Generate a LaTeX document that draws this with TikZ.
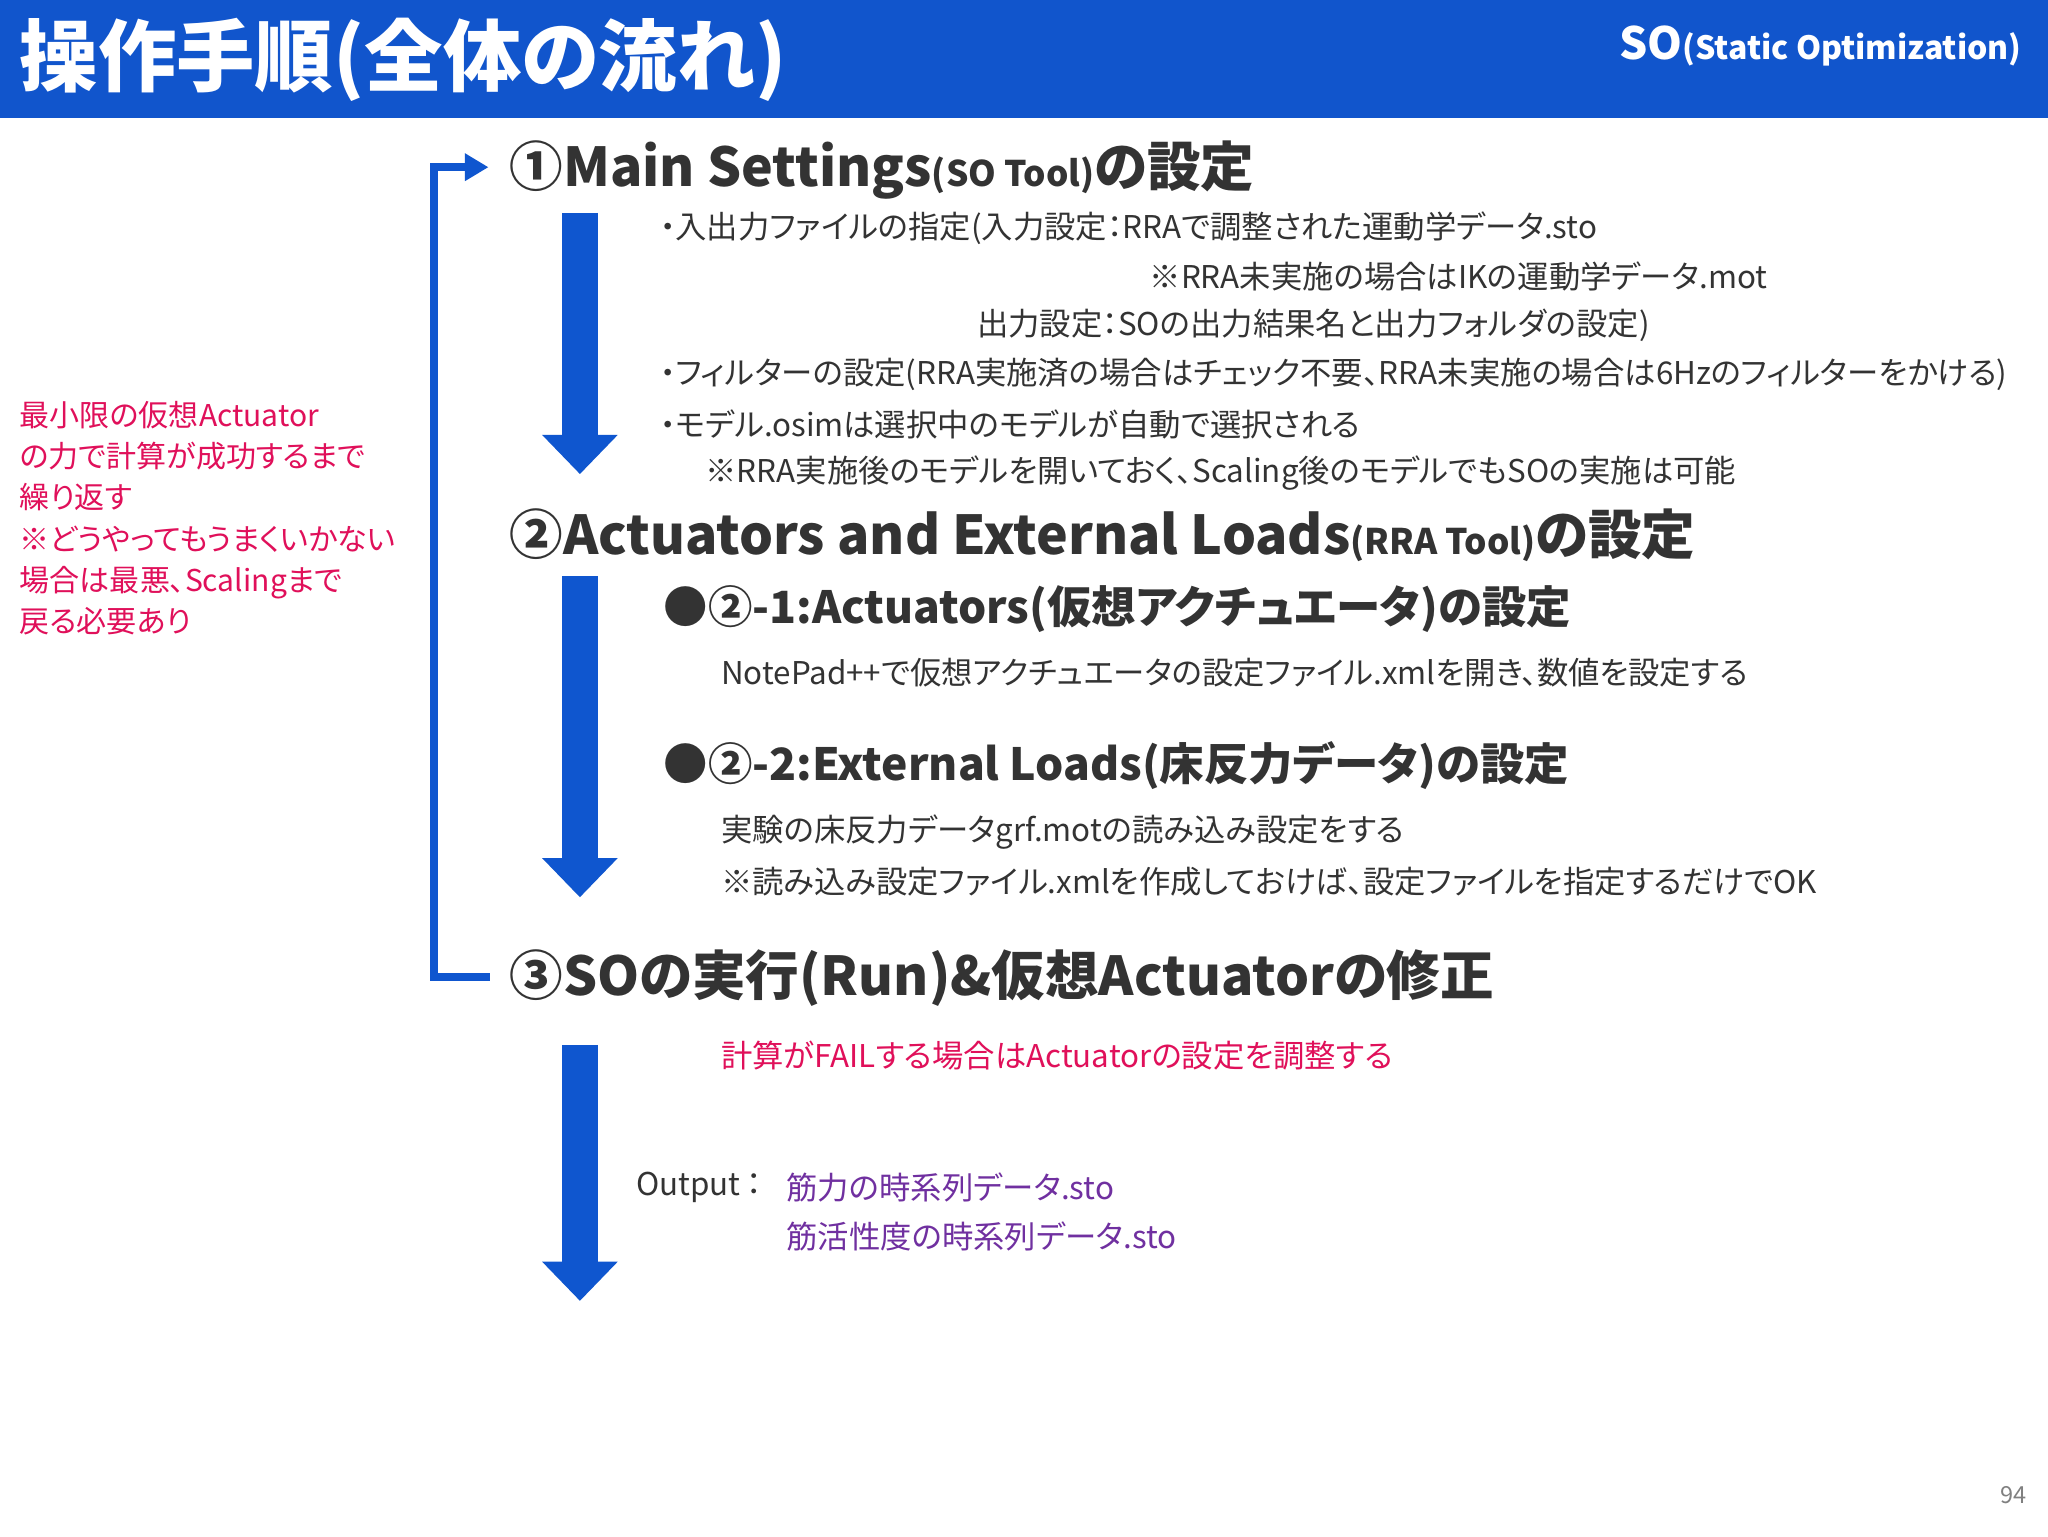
\documentclass[tikz,border=0pt]{standalone}
\usepackage{fontspec}
\setmainfont{Noto Sans CJK JP}[RawFeature=+palt]
\usetikzlibrary{arrows.meta}
\definecolor{hdrblue}{HTML}{1155CC}
\definecolor{arrblue}{HTML}{0F56CF}
\definecolor{bodyc}{HTML}{333333}
\definecolor{redc}{HTML}{E0105A}
\definecolor{purp}{HTML}{7030A0}
\tikzset{
  t/.style={anchor=west,inner sep=0pt,text=bodyc,font=\fontsize{24}{28}\selectfont},
  hd/.style={anchor=west,inner sep=0pt,text=bodyc,font=\fontsize{41}{46}\bfseries},
  sub/.style={anchor=west,inner sep=0pt,text=bodyc,font=\fontsize{34}{38}\bfseries},
  red/.style={anchor=west,inner sep=0pt,text=redc,font=\fontsize{24}{28}\selectfont},
  downarr/.style={line width=28pt,draw=arrblue,-{Triangle[width=56pt,length=30pt]}},
}
\begin{document}
\begin{tikzpicture}[x=1pt,y=-1pt]
\useasboundingbox (0,0) rectangle (1568,1176);
\fill[white] (0,0) rectangle (1568,1176);
\fill[hdrblue] (0,0) rectangle (1568,90);
\node[anchor=west,inner sep=0pt,text=white,font=\fontsize{60}{66}\bfseries] (title) at (15,46) {操作手順(全体の流れ)};
\node[anchor=east,inner sep=0pt,text=white,font=\bfseries] (so) at (1548,35) {{\fontsize{34}{38}\selectfont SO}{\fontsize{24.5}{28}\selectfont(Static Optimization)}};
% bracket
\coordinate (bA) at (375,748);
\coordinate (bB) at (332,748);
\coordinate (bC) at (332,128);
\coordinate (bD) at (374,128);
\draw[arrblue,line width=6pt,-{Triangle[width=20pt,length=18pt]}] (bA) -- (bB) -- (bC) -- (bD);
% headings
\node[hd] (h1) at (390,130) {①Main Settings{\fontsize{27}{30}\selectfont(SO Tool)}の設定};
\node[hd] (h2) at (390,410) {②Actuators and External Loads{\fontsize{27}{30}\selectfont(RRA Tool)}の設定};
\node[hd] (h3) at (390,749) {③SOの実行(Run)\&仮想Actuatorの修正};
% arrows
\coordinate (a1s) at (444,163); \coordinate (a1e) at (444,363);
\coordinate (a2s) at (444,441); \coordinate (a2e) at (444,687);
\coordinate (a3s) at (444,800); \coordinate (a3e) at (444,996);
\draw[downarr] (a1s) -- (a1e);
\draw[downarr] (a2s) -- (a2e);
\draw[downarr] (a3s) -- (a3e);
% section 1 text
\node[t] (l1) at (505,175) {・入出力ファイルの指定(入力設定：RRAで調整された運動学データ.sto};
\node[t] (l2) at (880,212) {※RRA未実施の場合はIKの運動学データ.mot};
\node[t] (l3) at (748,249) {出力設定：SOの出力結果名と出力フォルダの設定)};
\node[t] (l4) at (505,287) {・フィルターの設定(RRA実施済の場合はチェック不要、RRA未実施の場合は6Hzのフィルターをかける)};
\node[t] (l5) at (505,325) {・モデル.osimは選択中のモデルが自動で選択される};
\node[t] (l6) at (540,362) {※RRA実施後のモデルを開いておく、Scaling後のモデルでもSOの実施は可能};
% section 2
\node[sub] (s1) at (508,466) {●②-1:Actuators(仮想アクチュエータ)の設定};
\node[t] (s1t) at (552,515) {NotePad++で仮想アクチュエータの設定ファイル.xmlを開き、数値を設定する};
\node[sub] (s2) at (508,586) {●②-2:External Loads(床反力データ)の設定};
\node[t] (s2a) at (552,637) {実験の床反力データgrf.motの読み込み設定をする};
\node[t] (s2b) at (552,675) {※読み込み設定ファイル.xmlを作成しておけば、設定ファイルを指定するだけでOK};
% section 3
\node[red] (fail) at (552,808) {計算がFAILする場合はActuatorの設定を調整する};
\node[t] (out) at (487,909) {Output\,：};
\node[t,text=purp] (o1) at (602,909) {筋力の時系列データ.sto};
\node[t,text=purp] (o2) at (602,947) {筋活性度の時系列データ.sto};
% left note
\node[red,anchor=north west,align=left,font=\fontsize{23}{31.6}\selectfont] (note) at (15,307) {最小限の仮想Actuator\\の力で計算が成功するまで\\繰り返す\\※どうやってもうまくいかない\\場合は最悪、Scalingまで\\戻る必要あり};
\node[anchor=east,inner sep=0pt,text=gray,font=\fontsize{18}{20}\selectfont] (pg) at (1552,1145) {94};
\end{tikzpicture}
\end{document}
